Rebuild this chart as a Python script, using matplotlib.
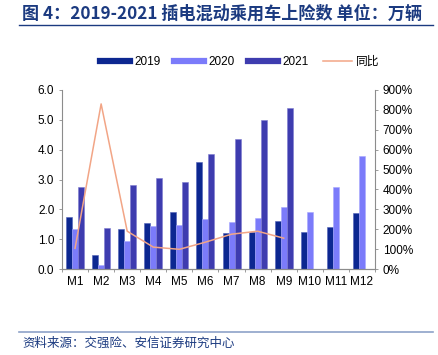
import matplotlib
matplotlib.use("Agg")
import matplotlib.pyplot as plt
from matplotlib.lines import Line2D
import numpy as np

plt.rcParams['font.family'] = ['Liberation Sans', 'Noto Sans CJK SC', 'DejaVu Sans']

months = ['M1', 'M2', 'M3', 'M4', 'M5', 'M6', 'M7', 'M8', 'M9', 'M10', 'M11', 'M12']
v2019 = [1.73, 0.47, 1.33, 1.53, 1.90, 3.57, 1.20, 1.25, 1.62, 1.23, 1.42, 1.87]
v2020 = [1.34, 0.15, 0.95, 1.44, 1.48, 1.67, 1.59, 1.72, 2.09, 1.92, 2.74, 3.79]
v2021 = [2.74, 1.39, 2.82, 3.04, 2.93, 3.86, 4.36, 5.00, 5.38]
yoy = [104, 830, 190, 110, 99, 135, 175, 190, 155]  # %

c19 = '#0C2790'
c20 = '#7B7BFA'
c21 = '#3E3CAF'
cline = '#F2A586'
title_col = '#1B3A80'

fig = plt.figure(figsize=(4.39, 3.55), dpi=100)
ax = fig.add_axes([62/439, 1-269/355, 313/439, 179/355])
ax2 = ax.twinx()

x = np.arange(len(months))
w = 0.23
ax.bar(x - w, v2019, w, color=c19, edgecolor='#5060B8', linewidth=0.4, label='2019')
ax.bar(x, v2020, w, color=c20, edgecolor='#A8A8FF', linewidth=0.4, label='2020')
ax.bar(x[:len(v2021)] + w, v2021, w, color=c21, edgecolor='#7C7AD0', linewidth=0.4, label='2021')
ax2.plot(x[:len(yoy)], yoy, color=cline, linewidth=1.1, label='同比')

ax.set_xlim(-0.5, 11.5)
ax.set_ylim(0, 6)
ax2.set_ylim(0, 900)
ax.set_yticks(np.arange(0, 6.01, 1.0))
ax.set_yticklabels([f'{v:.1f}' for v in np.arange(0, 6.01, 1.0)])
ax2.set_yticks(np.arange(0, 901, 100))
ax2.set_yticklabels([f'{v}%' for v in range(0, 901, 100)])
ax.set_xticks(x)
ax.set_xticklabels(months)
ax.set_xticks(np.arange(-0.5, 12, 1), minor=True)

spine_col = '#8C8C8C'
for a in (ax, ax2):
    a.spines['top'].set_visible(False)
    for s in ('left', 'right', 'bottom'):
        a.spines[s].set_color(spine_col)
        a.spines[s].set_linewidth(0.8)
ax.spines['right'].set_visible(False)
ax2.spines['left'].set_visible(False)

ax.tick_params(axis='y', direction='out', length=2.5, width=0.6, color=spine_col,
               labelsize=8.5, pad=3)
ax.tick_params(axis='x', which='major', length=0, labelsize=8.5, pad=5)
ax.tick_params(axis='x', which='minor', direction='out', length=2.5, width=0.6, color=spine_col)
ax2.tick_params(axis='y', direction='out', length=2.5, width=0.6, color=spine_col,
                labelsize=8.5, pad=3)

handles = [Line2D([], [], color=c19, lw=4.5), Line2D([], [], color=c20, lw=4.5),
           Line2D([], [], color=c21, lw=4.5), Line2D([], [], color=cline, lw=1.1)]
fig.legend(handles, ['2019', '2020', '2021', '同比'], loc='center', ncol=4,
           bbox_to_anchor=(240/439, 1-62/355), frameon=False, fontsize=8.5,
           handlelength=2.5, handletextpad=0.35, columnspacing=1.2)

fig.text(22/439, 1-14/355, '图 4：2019-2021 插电混动乘用车上险数 单位：万辆',
         fontsize=12.3, fontweight='bold', color=title_col, va='center', ha='left',
         family=['Noto Sans CJK SC', 'DejaVu Sans'])
fig.add_artist(Line2D([19/439, 433/439], [1-25/355, 1-25/355], color=title_col, lw=1.0))
fig.add_artist(Line2D([19/439, 433/439], [1-332/355, 1-332/355], color='#8EA2C8', lw=1.2))
fig.text(22/439, 1-343/355, '资料来源：交强险、安信证券研究中心', fontsize=9,
         style='italic', color=title_col, va='center', ha='left',
         family=['Noto Sans CJK SC', 'DejaVu Sans'])

fig.savefig('out.png', dpi=100)
